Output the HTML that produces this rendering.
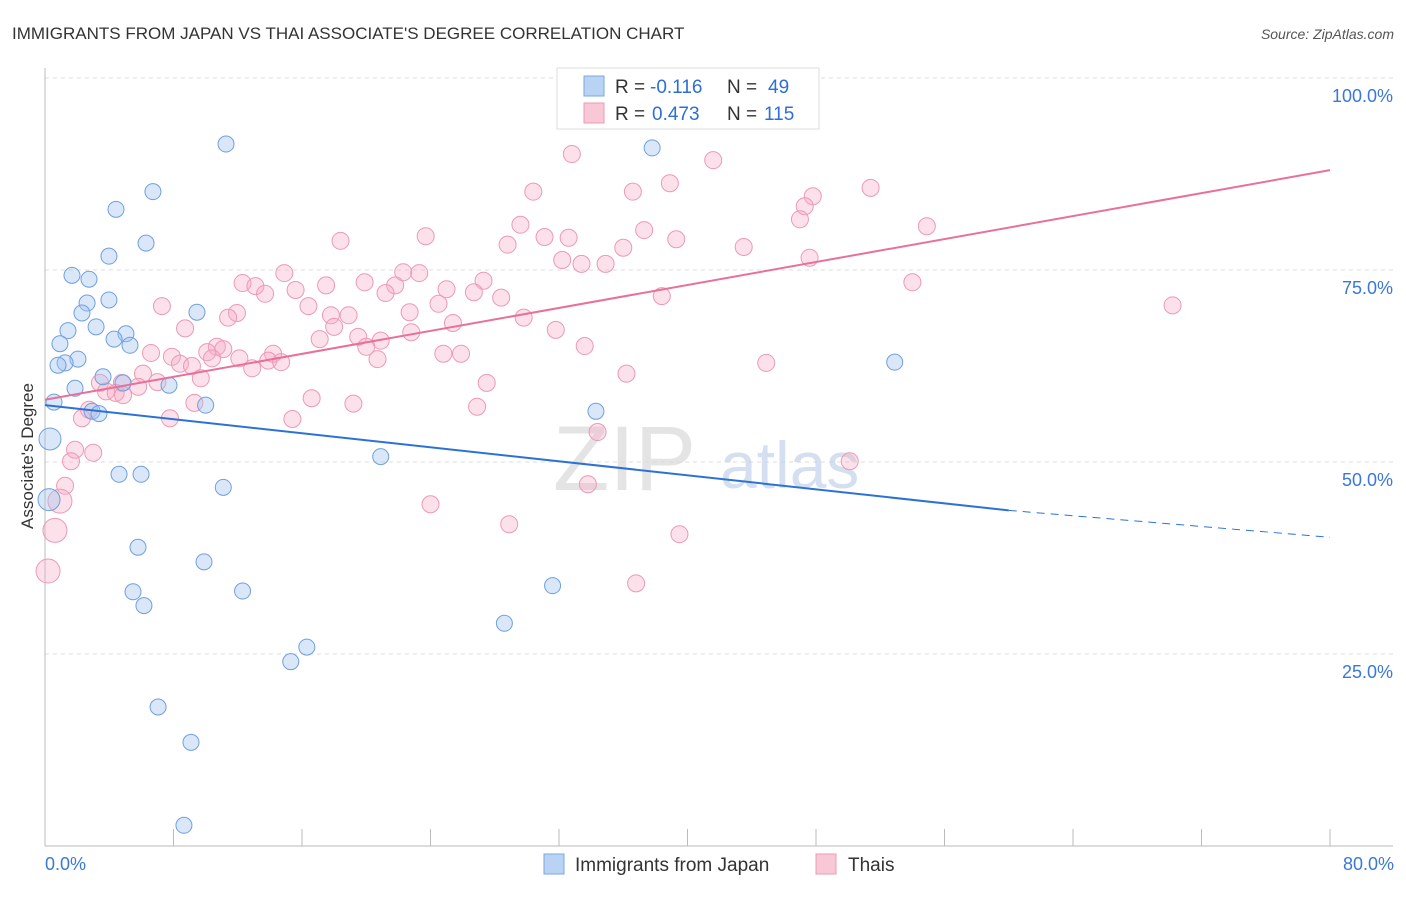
<!DOCTYPE html>
<html><head><meta charset="utf-8">
<style>
body{margin:0;background:#fff;font-family:"Liberation Sans",sans-serif;}
svg text{font-family:"Liberation Sans",sans-serif;}
</style></head>
<body>
<svg width="1406" height="892" viewBox="0 0 1406 892">
<text x="12" y="39" font-size="17" fill="#333">IMMIGRANTS FROM JAPAN VS THAI ASSOCIATE'S DEGREE CORRELATION CHART</text>
<text x="1394" y="39" font-size="14" fill="#555" font-style="italic" text-anchor="end">Source: ZipAtlas.com</text>
<g id="grid"></g>
<text x="33" y="456" font-size="17" fill="#333" text-anchor="middle" transform="rotate(-90 33 456)">Associate's Degree</text>
<text x="553" y="490" font-size="92" fill="#dadada" font-family="Liberation Serif" opacity="0.7">ZIP</text>
<text x="720" y="488" font-size="66" fill="#b9cde9" opacity="0.6">atlas</text>
<g id="pts"></g>
<g id="lines"></g>
<g>
<rect x="557" y="68" width="262" height="61" fill="#fff" stroke="#ddd"/>
<rect x="584" y="76" width="20" height="20" fill="#b9d3f5" stroke="#7aa8e0"/>
<rect x="584" y="103" width="20" height="20" fill="#f9c8d6" stroke="#ee9ab3"/>
<text x="615" y="93" font-size="19" fill="#333">R =</text>
<text x="650" y="93" font-size="19" fill="#2d6fd6">-0.116</text>
<text x="727" y="93" font-size="19" fill="#333">N =</text>
<text x="768" y="93" font-size="19" fill="#2d6fd6">49</text>
<text x="615" y="120" font-size="19" fill="#333">R =</text>
<text x="652" y="120" font-size="19" fill="#2d6fd6">0.473</text>
<text x="727" y="120" font-size="19" fill="#333">N =</text>
<text x="764" y="120" font-size="19" fill="#2d6fd6">115</text>
</g>
<text x="45" y="870" font-size="18" fill="#3a78d8">0.0%</text>
<text x="1394" y="870" font-size="18" fill="#3a78d8" text-anchor="end">80.0%</text>
<g>
<rect x="544" y="854" width="20" height="20" fill="#b9d3f5" stroke="#7aa8e0"/>
<text x="575" y="871" font-size="19" fill="#333">Immigrants from Japan</text>
<rect x="816" y="854" width="20" height="20" fill="#f9c8d6" stroke="#ee9ab3"/>
<text x="848" y="871" font-size="19" fill="#333">Thais</text>
</g>
</svg>
<script>
const yTicks=[25,50,75,100];
const yTickLabels=["25.0%","50.0%","75.0%","100.0%"];
const xTickVals=[0,8,16,24,32,40,48,56,64,72,80];
const japanX=[11.27,37.8,6.72,4.42,6.29,3.98,1.68,2.74,2.62,3.98,9.46,2.30,3.18,1.43,5.04,4.30,5.29,0.93,2.05,1.25,0.81,52.9,3.61,1.87,4.86,7.72,0.56,10.0,2.93,3.36,34.3,0.31,20.9,4.61,5.98,0.25,11.1,5.79,9.9,5.48,12.3,6.16,31.6,28.6,16.3,15.3,7.04,9.09,8.65];
const japanY=[91.4,90.9,85.2,82.9,78.5,76.8,74.3,73.8,70.7,71.1,69.5,69.4,67.6,67.1,66.7,66.0,65.2,65.4,63.4,62.9,62.6,63.0,61.1,59.6,60.3,60.0,57.8,57.4,56.6,56.3,56.6,53.0,50.7,48.4,48.4,45.1,46.7,38.9,37.0,33.1,33.2,31.3,33.9,29.0,25.9,24.0,18.1,13.5,2.7];
const thaiX=[32.8,41.6,30.4,38.9,36.6,51.4,47.8,47.3,47.0,54.9,29.6,37.3,23.7,18.4,31.1,32.6,39.3,28.8,43.5,36.0,32.2,33.4,34.9,47.6,14.9,22.3,23.3,27.3,19.9,12.3,13.1,17.5,54.0,15.6,25.0,21.8,21.2,26.7,13.7,38.4,28.4,16.4,24.5,7.28,70.2,11.95,11.4,18.9,17.8,22.7,29.8,25.4,8.72,18.0,31.8,22.8,17.1,19.5,20.9,20.0,33.6,10.7,11.1,6.6,10.1,14.2,24.8,25.9,7.9,12.1,8.4,13.9,14.7,20.7,9.15,10.4,12.9,44.9,36.2,6.1,9.7,7.0,3.42,4.79,5.8,27.5,3.8,4.4,4.86,16.6,9.3,19.2,26.9,2.74,2.30,7.78,15.4,34.4,1.87,3.0,1.62,50.1,1.25,33.8,0.93,24.0,28.9,39.5,0.62,36.8,0.19];
const thaiY=[90.1,89.3,85.2,86.3,85.2,85.7,84.6,83.3,81.6,80.7,80.9,80.2,79.4,78.8,79.3,79.2,79.0,78.3,78.0,77.9,76.3,75.8,75.8,76.6,74.6,74.7,74.6,73.6,73.4,73.3,72.9,73.0,73.4,72.4,72.5,73.0,72.0,72.1,71.9,71.6,71.4,70.3,70.6,70.3,70.4,69.4,68.8,69.1,69.1,69.5,68.8,68.1,67.4,67.6,67.2,66.9,66.0,66.3,65.8,65.0,65.1,65.0,64.7,64.2,64.3,64.1,64.1,64.1,63.7,63.5,62.8,63.2,63.0,63.4,62.5,63.5,62.2,62.9,61.5,61.5,60.9,60.4,60.3,60.3,59.8,60.3,59.2,59.0,58.7,58.3,57.7,57.6,57.2,56.8,55.7,55.7,55.6,53.9,51.6,51.2,50.1,50.1,46.9,47.1,44.9,44.5,41.9,40.6,41.1,34.2,35.8];
const japanTrend=[[0,57.4],[60,43.7],[80,40.2]];
const thaiTrend=[[0,58.1],[80,88.0]];
const X=v=>45+v/80*1285, Y=v=>846-v*7.68;
const NS='http://www.w3.org/2000/svg';
function mk(t,a,p){const e=document.createElementNS(NS,t);for(const k in a)e.setAttribute(k,a[k]);p.appendChild(e);return e;}
const g=document.getElementById('grid');
yTicks.forEach((t,i)=>{
 const l=mk('line',{x1:45,x2:1393,y1:Y(t),y2:Y(t),stroke:'#ddd','stroke-dasharray':'4,4'},g);
 
 
 const tx=mk('text',{x:1393,y:Y(t)+24,'font-size':18,fill:'#3a78d8','text-anchor':'end'},g);
 tx.textContent=yTickLabels[i];
 
 
});
const ax=mk('line',{x1:45,x2:45,y1:68,y2:846,stroke:'#bbb'},g);


const bx=mk('line',{x1:45,x2:1393,y1:846,y2:846,stroke:'#bbb'},g);


xTickVals.forEach(v=>{
 const t=mk('line',{x1:X(v),x2:X(v),y1:829,y2:846,stroke:'#bbb'},g);
 
 
});
const pg=document.getElementById('pts');
thaiX.forEach((x,i)=>{
 const c=mk('circle',{cx:X(x),cy:Y(thaiY[i]),r:x<1?12:8.5,fill:'rgba(246,170,195,0.35)',stroke:'#ec9ab4','stroke-width':1},pg);
 
 
});
japanX.forEach((x,i)=>{
 const c=mk('circle',{cx:X(x),cy:Y(japanY[i]),r:x<0.5?11:8,fill:'rgba(160,195,240,0.4)',stroke:'#6fa0e0','stroke-width':1},pg);
 
 
});
const lg=document.getElementById('lines');
const b1=mk('line',{x1:X(japanTrend[0][0]),y1:Y(japanTrend[0][1]),x2:X(japanTrend[1][0]),y2:Y(japanTrend[1][1]),stroke:'#2c72d6','stroke-width':2},lg);


const b2=mk('line',{x1:X(japanTrend[1][0]),y1:Y(japanTrend[1][1]),x2:X(japanTrend[2][0]),y2:Y(japanTrend[2][1]),stroke:'#2c72d6','stroke-width':1,'stroke-dasharray':'8,6'},lg);


const p1=mk('line',{x1:X(thaiTrend[0][0]),y1:Y(thaiTrend[0][1]),x2:X(thaiTrend[1][0]),y2:Y(thaiTrend[1][1]),stroke:'#e8709a','stroke-width':2},lg);


</script>
</body></html>
